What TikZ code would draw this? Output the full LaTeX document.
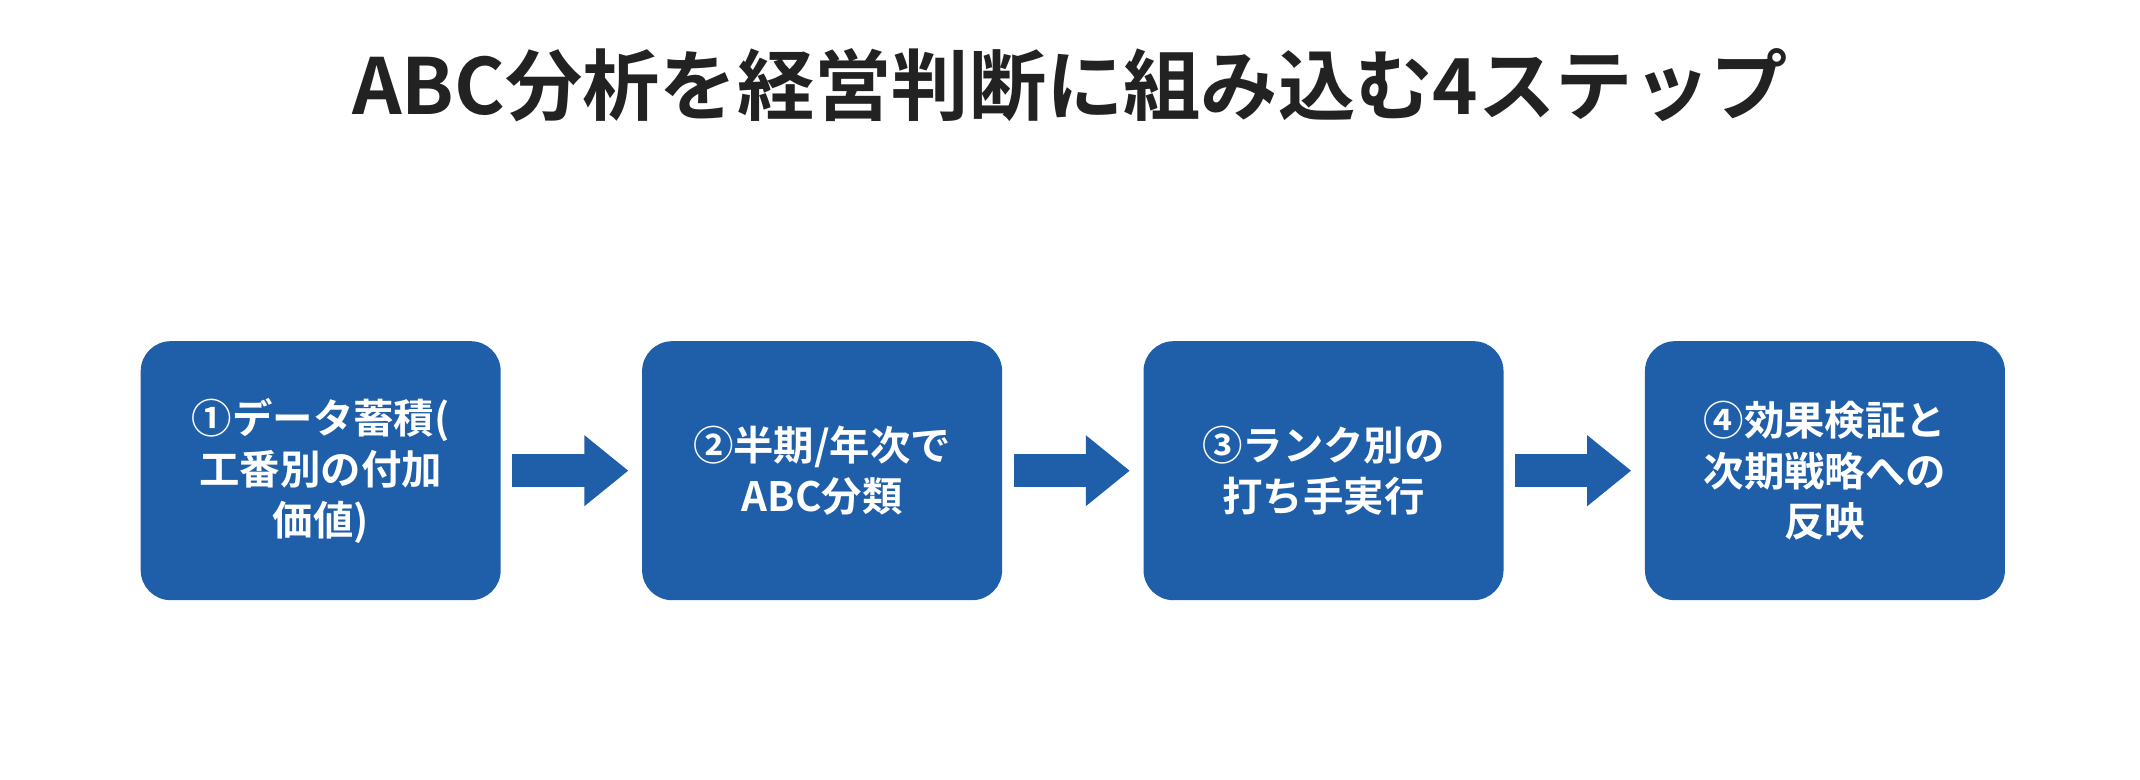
\documentclass[tikz,border=0pt]{standalone}
\usepackage{fontspec}
\setmainfont{Noto Sans CJK JP}[BoldFont={* Bold}]
\usetikzlibrary{positioning,arrows.meta}
\definecolor{stepblue}{HTML}{1F5EA8}
\definecolor{titlegray}{HTML}{222222}

\tikzset{
    stepbox/.style = {fill = stepblue, rounded corners = 3mm, minimum width = 3.6cm,
        minimum height = 2.59cm, align = center, text = white,
        font = \bfseries\fontsize{11.5}{14.5}\selectfont},
    flow/.style = {stepblue, line width = 0.33cm, shorten < = 0.11cm, shorten > = 0.13cm,
        -{Triangle[length = 0.44cm, width = 0.68cm]}},
}

\begin{document}
\begin{tikzpicture}
    \useasboundingbox (0,0) rectangle (21.4,7.8);
    \node [font = \bfseries\fontsize{22}{26}\selectfont, text = titlegray]
        (title) at (10.7,6.95) {ABC分析を経営判断に組み込む4ステップ};
    %% steps
    \node [stepbox] (stepA) at (3.207,3.093) {①データ蓄積(\\工番別の付加\\価値)};
    \node [stepbox, right = 1.4cm of stepA] (stepB) {②半期/年次で\\ABC分類};
    \node [stepbox, right = 1.4cm of stepB] (stepC) {③ランク別の\\打ち手実行};
    \node [stepbox, right = 1.4cm of stepC] (stepD) {④効果検証と\\次期戦略への\\反映};
    \foreach \a/\b in {stepA/stepB, stepB/stepC, stepC/stepD} {
        \draw [flow] (\a) -- (\b);
    }
\end{tikzpicture}
\end{document}
